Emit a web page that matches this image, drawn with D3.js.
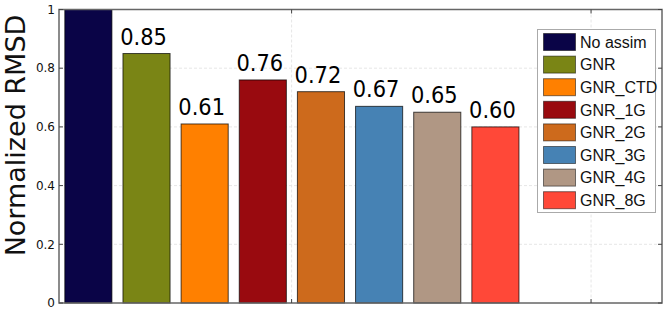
<!DOCTYPE html>
<html lang="en">
<head>
  <meta charset="UTF-8">
  <title>Normalized RMSD</title>
  <script src="https://d3js.org/d3.v7.min.js"></script>
  <style>
    body { margin: 0; background: #fff; }
    svg { display: block; }
    .tick-label { font-family: 'DejaVu Sans', sans-serif; font-size: 12px; fill: #111; }
    .value { font-family: 'DejaVu Sans', sans-serif; font-size: 21px; fill: #000; }
    .legend text { font-family: 'Liberation Sans', Arial, sans-serif; font-size: 16px; fill: #111; }
  </style>
</head>
<body>
  <svg id="chart" width="669" height="311"></svg>

  <script>
    const categories = ['No assim', 'GNR', 'GNR_CTD', 'GNR_1G', 'GNR_2G', 'GNR_3G', 'GNR_4G', 'GNR_8G'];
    const values = [1.00, 0.85, 0.61, 0.76, 0.72, 0.67, 0.65, 0.60];
    const labels = [null, '0.85', '0.61', '0.76', '0.72', '0.67', '0.65', '0.60'];
    const colors = ['#0a0447', '#7a8515', '#ff8000', '#990a0f', '#cd6a1c', '#4682b4', '#b09784', '#ff4838'];
    const yTicks = [0, 0.2, 0.4, 0.6, 0.8, 1];
    const yTickLabels = ['0', '0.2', '0.4', '0.6', '0.8', '1'];
    const xGrid = [3.9, 9.05];

    const svg = d3.select('#chart');
    const m = { left: 59, right: 662, top: 9.5, bottom: 303 };

    const x = d3.scaleLinear().domain([-0.1, 10.27]).range([m.left, m.right]);
    const y = d3.scaleLinear().domain([0, 1]).range([m.bottom, m.top]);
    const barW = x(0.81) - x(0);

    const bars = categories.map((c, i) => ({ i, name: c, value: values[i], label: labels[i], color: colors[i] }));

    // grid
    svg.append('g').selectAll('line')
      .data(yTicks.filter(t => t > 0 && t < 1))
      .enter().append('line')
      .attr('x1', m.left).attr('x2', m.right)
      .attr('y1', d => y(d)).attr('y2', d => y(d))
      .attr('stroke', '#e6e6e6').attr('stroke-dasharray', '3,2').attr('stroke-width', 1);

    svg.append('g').selectAll('line')
      .data(xGrid)
      .enter().append('line')
      .attr('x1', d => x(d)).attr('x2', d => x(d))
      .attr('y1', m.top).attr('y2', m.bottom)
      .attr('stroke', '#e6e6e6').attr('stroke-dasharray', '3,2').attr('stroke-width', 1);

    // bars
    svg.append('g').selectAll('rect')
      .data(bars)
      .enter().append('rect')
      .attr('x', d => x(d.i))
      .attr('y', d => y(d.value))
      .attr('width', barW)
      .attr('height', d => y(0) - y(d.value))
      .attr('fill', d => d.color)
      .attr('stroke', 'rgba(0,0,0,0.7)')
      .attr('stroke-width', 1);

    // value labels (slightly stretched vertically like the original)
    svg.append('g').selectAll('text')
      .data(bars.filter(d => d.label))
      .enter().append('text')
      .attr('class', 'value')
      .attr('transform', d => `translate(${x(d.i) + barW / 2 - 3},${y(d.value) - 9}) scale(1,1.12)`)
      .attr('text-anchor', 'middle')
      .text(d => d.label);

    // frame
    svg.append('rect')
      .attr('x', m.left).attr('y', m.top)
      .attr('width', m.right - m.left).attr('height', m.bottom - m.top)
      .attr('fill', 'none').attr('stroke', '#666').attr('stroke-width', 1.5);

    // ticks
    const tg = svg.append('g');
    yTicks.forEach((t, i) => {
      tg.append('line').attr('x1', m.left).attr('x2', m.left + 4)
        .attr('y1', y(t)).attr('y2', y(t)).attr('stroke', '#444');
      tg.append('line').attr('x1', m.right - 4).attr('x2', m.right)
        .attr('y1', y(t)).attr('y2', y(t)).attr('stroke', '#444');
      tg.append('text').attr('class', 'tick-label')
        .attr('x', m.left - 4).attr('y', y(t)).attr('dy', '0.35em')
        .attr('text-anchor', 'end').text(yTickLabels[i]);
    });
    xGrid.forEach(t => {
      tg.append('line').attr('x1', x(t)).attr('x2', x(t))
        .attr('y1', m.bottom).attr('y2', m.bottom - 4).attr('stroke', '#444');
      tg.append('line').attr('x1', x(t)).attr('x2', x(t))
        .attr('y1', m.top).attr('y2', m.top + 4).attr('stroke', '#444');
    });

    // y label
    svg.append('text')
      .attr('transform', 'translate(25,135.5) rotate(-90)')
      .attr('text-anchor', 'middle')
      .style('font-family', "'DejaVu Sans', sans-serif")
      .style('font-size', '27px')
      .style('fill', '#111')
      .text('Normalized RMSD');

    // legend
    const lg = svg.append('g').attr('class', 'legend');
    const lx = 537.5, ly = 29.5, rowH = 22.6;
    lg.append('rect')
      .attr('x', lx).attr('y', ly)
      .attr('width', 118).attr('height', 183)
      .attr('fill', '#fff').attr('stroke', '#aaa').attr('stroke-width', 1);
    const rows = lg.selectAll('g.row').data(bars).enter().append('g')
      .attr('class', 'row')
      .attr('transform', d => `translate(${lx + 6},${ly + 4 + d.i * rowH})`);
    rows.append('rect')
      .attr('width', 32).attr('height', 17)
      .attr('fill', d => d.color)
      .attr('stroke', 'rgba(0,0,0,0.5)').attr('stroke-width', 1);
    rows.append('text')
      .attr('x', 36.5).attr('y', 8.5).attr('dy', '0.36em')
      .text(d => d.name);
  </script>
</body>
</html>
